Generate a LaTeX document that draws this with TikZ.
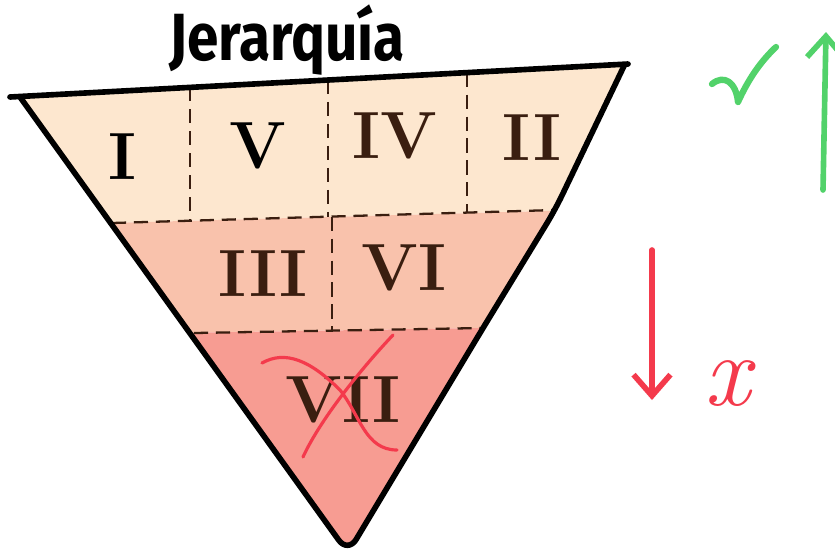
\documentclass[tikz,border=0pt]{standalone}
\usepackage{fontspec}
\usepackage{graphicx}
\usepackage{xcolor}
\usetikzlibrary{positioning,arrows.meta,calc}
\newfontfamily\titlefont{Fira Sans}
\definecolor{ctop}{HTML}{FDE7CF}
\definecolor{cmid}{HTML}{F9C2AC}
\definecolor{cbot}{HTML}{F79C92}
\definecolor{cink}{HTML}{3A1E10}
\definecolor{cgood}{HTML}{52D26A}
\definecolor{cbad}{HTML}{F43A4C}

\begin{document}
\begin{tikzpicture}[
  x=0.02cm, y=-0.02cm,
  outline/.style={line width=3.2pt, line join=round, line cap=round},
  sep/.style={draw=cink, line width=1.3pt, dash pattern=on 8pt off 4.5pt},
  num/.style={font=\fontsize{38}{38}\selectfont\bfseries, text=cink, inner sep=0pt},
  hd/.style={font=\titlefont\fontsize{38}{38}\selectfont\bfseries, anchor=base},
  arr/.style={line width=3.2pt, line cap=round, -{Straight Barb[length=12pt, width=21pt]}},
  strike/.style={line width=1.8pt, line cap=round, draw=cbad},
]
\useasboundingbox (0,0) rectangle (835,549);

% ---------- triangle corners ----------
\coordinate (tl) at (10,97);
\coordinate (tr) at (628,64);
\coordinate (sl) at (20,97);
\coordinate (sr) at (624,66);
\coordinate (tip) at (348,553);

% ---------- band borders ----------
\coordinate (h1a) at (112,223);
\coordinate (h1b) at (555,210);
\coordinate (h2a) at (194,333);
\coordinate (h2b) at (483,328);

% ---------- fills ----------
\begin{scope}
  \clip[rounded corners=9pt] (sl) -- (tip) -- (h2b) -- (h1b) -- (sr)
    -- ($(sr)+(0,-40)$) -- ($(sl)+(0,-40)$) -- cycle;
  \fill[ctop] (0,97.5) -- (835,53) -- (835,203) -- (0,226) -- cycle;
  \fill[cmid] (0,226) -- (835,203) -- (835,322) -- (0,336) -- cycle;
  \fill[cbot] (0,336) -- (835,322) -- (835,560) -- (0,560) -- cycle;
\end{scope}

% ---------- dashed cells ----------
\draw[sep] (h1a) -- (h1b);
\draw[sep] (h2a) -- (h2b);
\foreach \x/\ya/\yb in {190/87.4/220.7, 328/80.0/216.7, 467/72.6/212.6}
  \draw[sep] (\x,\ya) -- (\x,\yb);
\draw[sep] (332,216.6) -- (332,330.6);

% ---------- outline ----------
\draw[outline] (tl) -- (tr);
\draw[outline, rounded corners=9pt] (sl) -- (tip) -- (h2b) -- (h1b) -- (sr);

% ---------- numerals ----------
\node[num, text=black] (rI) at (122,157) {I};
\node[num, text=black] (rV) at (258,146) {V};
\node[num] (rIV) at (395,136) {IV};
\node[num] (rII) at (532,138) {II};
\node[num] (rIII) at (263,274) {III};
\node[num] (rVI) at (404,268) {VI};
\node[num] (rVII) at (343,400) {VII};
\draw[strike] (262,363) .. controls (285,350) and (310,360) .. (340,390)
  .. controls (360,415) and (365,450) .. (397,450);
\draw[strike] (393,335) .. controls (360,370) and (320,420) .. (303,457);

% ---------- title ----------
\node[hd] (title) at (287,60) {\scalebox{0.85}[1]{Jerarquía}};

% ---------- right side ----------
\draw[line width=3.6pt, line cap=round, line join=round, cgood]
  (712,84) .. controls (724,74) and (736,82) .. (738,102)
  .. controls (748,80) and (760,62) .. (776,47);
\coordinate (gup0) at (823,190);
\coordinate (gup1) at (826,32);
\draw[arr, cgood] (gup0) -- (gup1);
\coordinate (rdn0) at (652,250);
\coordinate (rdn1) at (652,400);
\draw[arr, cbad] (rdn0) -- (rdn1);
\node[font=\fontsize{58}{58}\selectfont\itshape, text=cbad] (wrong) at (727,384) {x};
\end{tikzpicture}
\end{document}
